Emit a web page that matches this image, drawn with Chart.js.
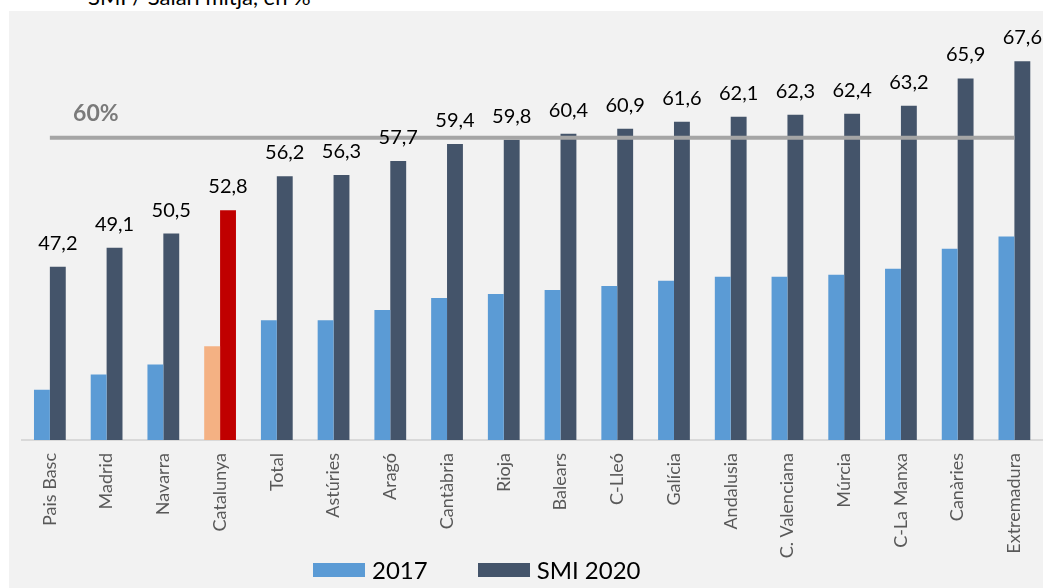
<!DOCTYPE html>
<html>
<head>
<meta charset="utf-8">
<script src="https://cdn.jsdelivr.net/npm/chart.js@4.4.1/dist/chart.umd.min.js"></script>
<style>
    html, body { margin: 0; padding: 0; width: 1043px; height: 588px; overflow: hidden; background: #fff; font-family: Lato, sans-serif; }
    #title { position: absolute; left: 88px; top: -14px; font-size: 22px; line-height: 22px; color: #000; white-space: nowrap; }
    #wrap { position: absolute; left: 9px; top: 11px; width: 1040px; height: 577px; background: #f2f2f2; }
    #legend { position: absolute; left: 313px; top: 556px; display: flex; align-items: center; }
    .item { display: flex; align-items: center; margin-right: 50px; font-size: 24px; line-height: 28px; color: #000; }
    .swatch { width: 52px; height: 14px; margin-right: 7px; }
</style>
</head>
<body>
<div id="title">SMI / Salari mitjà, en %</div>
<div id="wrap"><canvas id="smiChart"></canvas></div>
<div id="legend"></div>

<script>
// ========== DATA ==========
const categories = ['Pais Basc', 'Madrid', 'Navarra', 'Catalunya', 'Total', 'Astúries', 'Aragó', 'Cantàbria',
    'Rioja', 'Balears', 'C-Lleó', 'Galícia', 'Andalusia', 'C. Valenciana', 'Múrcia', 'C-La Manxa', 'Canàries', 'Extremadura'];
const values2017 = [35.0, 36.5, 37.5, 39.3, 41.9, 41.9, 42.9, 44.1, 44.5, 44.9, 45.3, 45.8, 46.2, 46.2, 46.4, 47.0, 49.0, 50.2];
const valuesSmi2020 = [47.2, 49.1, 50.5, 52.8, 56.2, 56.3, 57.7, 59.4, 59.8, 60.4, 60.9, 61.6, 62.1, 62.3, 62.4, 63.2, 65.9, 67.6];
const threshold = [60, 60, 60, 60, 60, 60, 60, 60, 60, 60, 60, 60, 60, 60, 60, 60, 60, 60];
const highlight = 'Catalunya';

// ========== COLOURS ==========
const blue = '#5b9bd5';
const navy = '#44546a';
const orange = '#f4b183';
const red = '#c00000';

// ========== HELPERS ==========
function formatNumber(value) {
    return value.toFixed(1).replace('.', ',');
}

// value labels above the SMI 2020 bars + the "60%" tag
const barLabels = {
    id: 'barLabels',
    afterDatasetsDraw(chart) {
        const ctx = chart.ctx;
        const meta = chart.getDatasetMeta(1);
        ctx.save();
        ctx.font = '20px Lato';
        ctx.fillStyle = '#000';
        ctx.textAlign = 'center';
        ctx.textBaseline = 'alphabetic';
        meta.data.forEach((bar, i) => {
            const text = formatNumber(valuesSmi2020[i]);
            const w = ctx.measureText(text).width;
            let x = bar.x;
            if (x + w / 2 > 1033) x = 1033 - w / 2;
            ctx.fillText(text, x, bar.y - 17);
        });

        const line = chart.getDatasetMeta(2).data[0];
        ctx.font = 'bold 23px Lato';
        ctx.fillStyle = '#7a7a7a';
        ctx.textBaseline = 'middle';
        ctx.fillText(threshold[0] + '%', line.x + 46, line.y - 24);
        ctx.restore();
    }
};

// ========== CHART ==========
const ctx = document.getElementById('smiChart').getContext('2d');
const smiChart = new Chart(ctx, {
    type: 'bar',
    data: {
        labels: categories,
        datasets: [
            {
                label: '2017',
                data: values2017,
                backgroundColor: categories.map(c => c === highlight ? orange : blue),
                legendColor: blue
            },
            {
                label: 'SMI 2020',
                data: valuesSmi2020,
                backgroundColor: categories.map(c => c === highlight ? red : navy),
                legendColor: navy
            },
            {
                type: 'line',
                label: '60%',
                data: threshold,
                borderColor: '#a5a5a5',
                borderWidth: 4,
                pointRadius: 0,
                fill: false,
                order: -1
            }
        ]
    },
    options: {
        responsive: true,
        maintainAspectRatio: false,
        animation: false,
        layout: {
            padding: { top: 6, left: 12.5, right: 0, bottom: 0 }
        },
        datasets: {
            bar: {
                categoryPercentage: 0.56,
                barPercentage: 1
            }
        },
        plugins: {
            legend: { display: false },
            tooltip: { enabled: false }
        },
        scales: {
            x: {
                grid: { display: false, drawTicks: false },
                border: { color: '#d9d9d9', width: 2 },
                ticks: {
                    color: '#595959',
                    font: { family: 'Lato', size: 18 },
                    minRotation: 90,
                    maxRotation: 90,
                    padding: 13,
                    autoSkip: false
                },
                afterFit: function(axis) {
                    axis.height = 148;
                }
            },
            y: {
                display: false,
                min: 30,
                max: 72
            }
        }
    },
    plugins: [barLabels]
});

// ========== LEGEND ==========
document.getElementById('legend').innerHTML = smiChart.data.datasets
    .filter(d => d.type !== 'line')
    .map(d => `<div class="item"><span class="swatch" style="background:${d.legendColor}"></span>${d.label}</div>`)
    .join('');
</script>
</body>
</html>
